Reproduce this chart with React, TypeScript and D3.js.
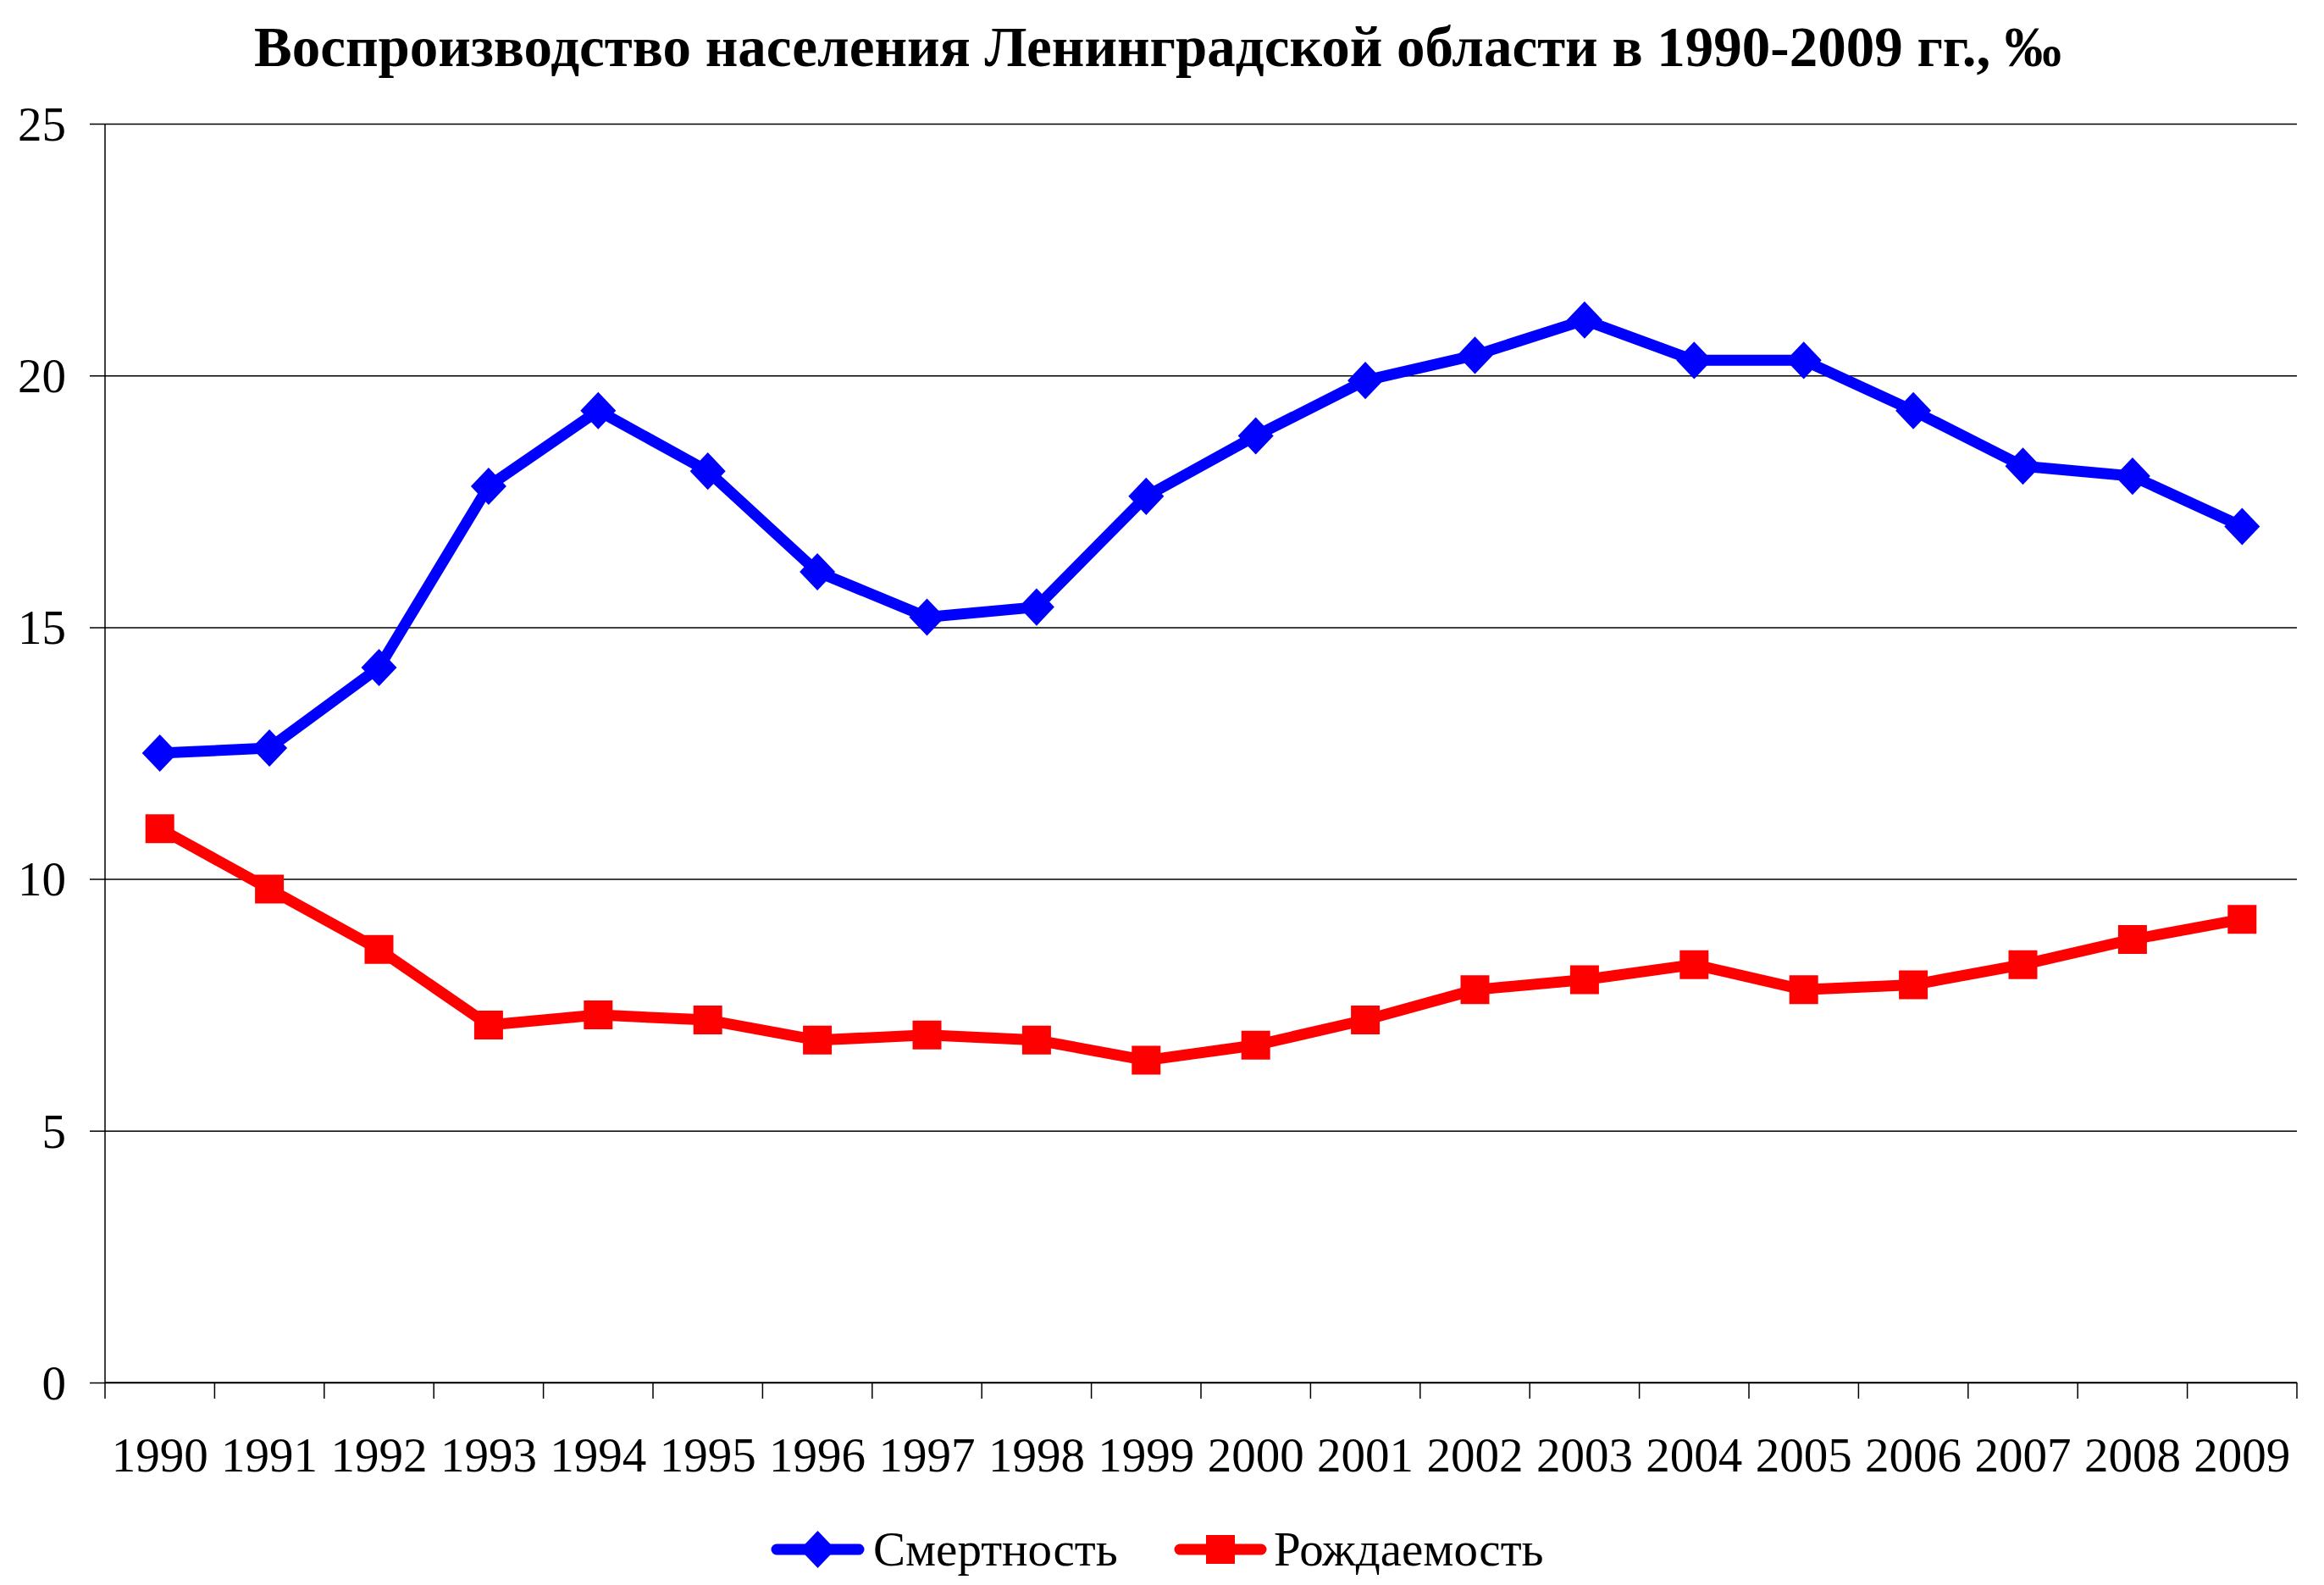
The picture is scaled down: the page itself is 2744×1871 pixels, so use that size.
import { useEffect, useRef } from "react";
import * as d3 from "d3";

const years = [
  "1990", "1991", "1992", "1993", "1994", "1995", "1996", "1997", "1998", "1999",
  "2000", "2001", "2002", "2003", "2004", "2005", "2006", "2007", "2008", "2009",
];
const mortality = [
  12.5, 12.6, 14.2, 17.8, 19.3, 18.1, 16.1, 15.2, 15.4, 17.6,
  18.8, 19.9, 20.4, 21.1, 20.3, 20.3, 19.3, 18.2, 18.0, 17.0,
];
const birthRate = [
  11.0, 9.8, 8.6, 7.1, 7.3, 7.2, 6.8, 6.9, 6.8, 6.4,
  6.7, 7.2, 7.8, 8.0, 8.3, 7.8, 7.9, 8.3, 8.8, 9.2,
];
const yTicks = [0, 5, 10, 15, 20, 25];
const title = "Воспроизводство населения Ленинградской области в 1990-2009 гг., ‰";

const series = [
  { name: "Смертность", values: mortality, color: "#0000ff", marker: "diamond" },
  { name: "Рождаемость", values: birthRate, color: "#ff0000", marker: "square" },
];

const W = 2744;
const H = 1871;
const left = 124;
const right = 2712;
const top = 146;
const bottom = 1632;
const font = "'Liberation Serif', 'Times New Roman', serif";

// wide diamond like the one Excel draws (almost square, rotated)
const wideDiamond = {
  draw(ctx: d3.Path, size: number) {
    const r = Math.sqrt(size) / 2;
    ctx.moveTo(0, -r * 1.05);
    ctx.lineTo(r, 0);
    ctx.lineTo(0, r * 1.05);
    ctx.lineTo(-r, 0);
    ctx.closePath();
  },
};

const App = () => {
  const ref = useRef<SVGSVGElement>(null);

  useEffect(() => {
    const svg = d3.select(ref.current);
    svg.selectAll("*").remove();

    const x = d3.scaleBand().domain(years).range([left, right]);
    const y = d3.scaleLinear().domain([0, 25]).range([bottom, top]);

    svg.append("rect").attr("width", W).attr("height", H).attr("fill", "#fff");

    svg
      .append("text")
      .attr("x", 1367)
      .attr("y", 78)
      .attr("text-anchor", "middle")
      .attr("font-family", font)
      .attr("font-weight", "bold")
      .attr("font-size", 67)
      .text(title);

    // gridlines + y axis
    const yAxis = svg
      .append("g")
      .attr("transform", `translate(${left},0)`)
      .call(
        d3
          .axisLeft(y)
          .tickValues(yTicks)
          .tickSize(-(right - left))
          .tickSizeOuter(0)
          .tickPadding(0)
      );
    yAxis.select(".domain").remove();
    yAxis.selectAll("line").attr("stroke", "#000").attr("stroke-width", 1.5).attr("x1", -18);
    yAxis
      .selectAll("text")
      .attr("x", -46)
      .attr("dy", "0.34em")
      .attr("font-family", font)
      .attr("font-size", 57)
      .attr("fill", "#000");
    svg
      .append("line")
      .attr("x1", left)
      .attr("x2", left)
      .attr("y1", top)
      .attr("y2", bottom)
      .attr("stroke", "#000")
      .attr("stroke-width", 1.5);

    // x axis with ticks between categories
    const xg = svg.append("g");
    xg.append("line")
      .attr("x1", left)
      .attr("x2", right)
      .attr("y1", bottom)
      .attr("y2", bottom)
      .attr("stroke", "#000")
      .attr("stroke-width", 1.5);
    const bounds = years.map((d) => x(d) as number).concat([right]);
    xg.selectAll(".tk")
      .data(bounds)
      .join("line")
      .attr("x1", (d) => d)
      .attr("x2", (d) => d)
      .attr("y1", bottom)
      .attr("y2", bottom + 19)
      .attr("stroke", "#000")
      .attr("stroke-width", 1.5);
    xg.selectAll(".lbl")
      .data(years)
      .join("text")
      .attr("x", (d) => (x(d) as number) + x.bandwidth() / 2)
      .attr("y", 1737)
      .attr("text-anchor", "middle")
      .attr("font-family", font)
      .attr("font-size", 57)
      .text((d) => d);

    const line = d3
      .line<number>()
      .x((_, i) => (x(years[i]) as number) + x.bandwidth() / 2)
      .y((d) => y(d));

    const symFor = (m: string) =>
      m === "diamond"
        ? d3.symbol().type(wideDiamond).size(42 * 42)()
        : d3.symbol().type(d3.symbolSquare).size(34 * 34)();

    series.forEach((s) => {
      const g = svg.append("g");
      g.append("path")
        .datum(s.values)
        .attr("fill", "none")
        .attr("stroke", s.color)
        .attr("stroke-width", 13)
        .attr("stroke-linejoin", "round")
        .attr("d", line);
      g.selectAll("path.m")
        .data(s.values)
        .join("path")
        .attr("class", "m")
        .attr(
          "transform",
          (d, i) => `translate(${(x(years[i]) as number) + x.bandwidth() / 2},${y(d)})`
        )
        .attr("fill", s.color)
        .attr("d", symFor(s.marker));
    });

    // legend
    const legendY = 1829;
    const legendItems = [
      { ...series[0], x0: 911, x1: 1020, tx: 1031 },
      { ...series[1], x0: 1387, x1: 1495, tx: 1504 },
    ];
    legendItems.forEach((it) => {
      const g = svg.append("g");
      g.append("line")
        .attr("x1", it.x0 + 6)
        .attr("x2", it.x1 - 6)
        .attr("y1", legendY)
        .attr("y2", legendY)
        .attr("stroke", it.color)
        .attr("stroke-width", 13)
        .attr("stroke-linecap", "round");
      g.append("path")
        .attr("transform", `translate(${(it.x0 + it.x1) / 2},${legendY})`)
        .attr("fill", it.color)
        .attr("d", symFor(it.marker));
      g.append("text")
        .attr("x", it.tx)
        .attr("y", legendY)
        .attr("dy", "0.34em")
        .attr("font-family", font)
        .attr("font-size", 57)
        .text(it.name);
    });
  });

  return (
    <svg
      ref={ref}
      width={W}
      height={H}
      style={{ position: "absolute", left: 0, top: 0, display: "block" }}
    />
  );
};

export default App;
